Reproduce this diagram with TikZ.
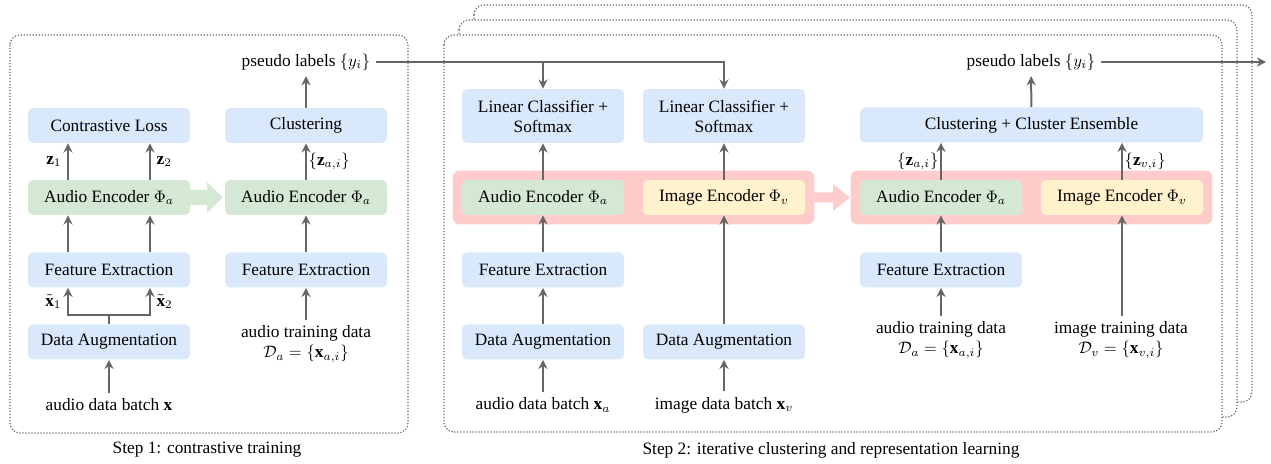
\documentclass[tikz,border=0pt]{standalone}
\usepackage{amsmath,amssymb}
\usepackage{fontspec}
\setmainfont{Liberation Serif}
\usepackage{tikz}
\usetikzlibrary{arrows.meta,fit,backgrounds,positioning}
\definecolor{boxblue}{HTML}{DAE8FC}
\definecolor{encgreen}{HTML}{D5E8D4}
\definecolor{encyellow}{HTML}{FFF2CC}
\definecolor{bandpink}{HTML}{FFCCCC}
\definecolor{arrgray}{HTML}{666666}
\definecolor{framegray}{HTML}{6A6A6A}

\begin{document}
\begin{tikzpicture}[x=0.6pt, y=-0.6pt, font=\fontsize{10.4}{12}\selectfont,
   box/.style={rectangle, rounded corners=3pt, fill=boxblue, minimum width=97.2pt, minimum height=21pt, inner sep=0pt, align=center},
   enc/.style={box, fill=encgreen},
   band/.style={rectangle, rounded corners=4pt, fill=bandpink, inner sep=5.4pt},
   frame/.style={draw=framegray, line width=0.75pt, dash pattern=on 0.75pt off 1.05pt, rounded corners=6pt},
   arr/.style={-{Stealth[length=5.5pt,width=5.5pt]}, draw=arrgray, line width=1.2pt}]
   \useasboundingbox (0,0) rectangle (1271,464);
   % frames
   \begin{scope}[on background layer]
    \draw[frame] (10,35) rectangle (408,433);
    \draw[frame, fill=white] (474,5) rectangle (1252,402);
    \draw[frame, fill=white] (459,20) rectangle (1237,417);
    \draw[frame, fill=white] (444,35) rectangle (1222,432);
   \end{scope}
   \node (cap1) at (207,450) {Step 1: contrastive training};
   \node (cap2) at (831,450) {Step 2: iterative clustering and representation learning};

   % step 1
   \node[box] (cl) at (109,125.5) {Contrastive Loss};
   \node[enc] (ae1) at (109,197.5) {Audio Encoder $\Phi_a$};
   \node[box] (fe1) at (109,270) {Feature Extraction};
   \node[box] (da1) at (109,342) {Data Augmentation};
   \node (adb1) at (109,405) {audio data batch $\mathbf{x}$};
   \node[box] (clu) at (306,125.5) {Clustering};
   \node[enc] (ae1b) at (306,197.5) {Audio Encoder $\Phi_a$};
   \node[box] (fe1b) at (306,270) {Feature Extraction};
   \node[align=center] (atd1) at (306,344) {audio training data\\$\mathcal{D}_a=\{\mathbf{x}_{a,i}\}$};
   \node (pl1) at (306,62) {pseudo labels $\{y_i\}$};
   \fill[encgreen] (190,190) -- (207,190) -- (207,182) -- (223,197.5) -- (207,213) -- (207,205) -- (190,205) -- cycle;

   \begin{scope}[arr]
    \draw (adb1) -- (da1);
    \draw (da1.north) -- ++(0,-9) -| node[pos=0.75,left]{$\tilde{\mathbf{x}}_1$} ([xshift=-24.6pt]fe1.south);
    \draw (da1.north) -- ++(0,-9) -| node[pos=0.75,right]{$\tilde{\mathbf{x}}_2$} ([xshift=24.6pt]fe1.south);
    \draw ([xshift=-24.6pt]fe1.north) -- ([xshift=-24.6pt]ae1.south);
    \draw ([xshift=24.6pt]fe1.north) -- ([xshift=24.6pt]ae1.south);
    \draw ([xshift=-24.6pt]ae1.north) -- node[left]{$\mathbf{z}_1$} ([xshift=-24.6pt]cl.south);
    \draw ([xshift=24.6pt]ae1.north) -- node[right]{$\mathbf{z}_2$} ([xshift=24.6pt]cl.south);
    \draw (atd1) -- (fe1b);
    \draw (fe1b) -- (ae1b);
    \draw (ae1b) -- node[right,inner sep=1pt]{$\{\mathbf{z}_{a,i}\}$} (clu);
    \draw (clu) -- (pl1);
   \end{scope}

   % step 2, training
   \node[box, minimum height=32.4pt] (lc1) at (543,116) {Linear Classifier +\\Softmax};
   \node[box, minimum height=32.4pt] (lc2) at (724,116) {Linear Classifier +\\Softmax};
   \node[enc] (ae2) at (543,197.5) {Audio Encoder $\Phi_a$};
   \node[enc, fill=encyellow] (ie2) at (724,197.5) {Image Encoder $\Phi_v$};
   \node[box] (fe2) at (543,270) {Feature Extraction};
   \node[box] (da2) at (543,342) {Data Augmentation};
   \node[box] (da2b) at (724,342) {Data Augmentation};
   \node (adb2) at (543,405) {audio data batch $\mathbf{x}_a$};
   \node (idb2) at (724,405) {image data batch $\mathbf{x}_v$};
   \begin{scope}[on background layer]
    \node[band, fit=(ae2)(ie2)] (b2) {};
   \end{scope}
   \fill[bandpink] (814,192.5) -- (833,192.5) -- (833,184) -- (850,197.5) -- (833,211) -- (833,202.5) -- (814,202.5) -- cycle;

   % step 2, clustering
   \node[enc] (ae3) at (941,197.5) {Audio Encoder $\Phi_a$};
   \node[enc, fill=encyellow] (ie3) at (1122,197.5) {Image Encoder $\Phi_v$};
   \begin{scope}[on background layer]
    \node[band, fit=(ae3)(ie3)] (b3) {};
   \end{scope}
   \node[box, minimum width=205.8pt] (cce) at (1031.5,125) {Clustering + Cluster Ensemble};
   \node (pl2) at (1031,62) {pseudo labels $\{y_i\}$};
   \node[box] (fe3) at (941,270) {Feature Extraction};
   \node[align=center] (atd3) at (941,340) {audio training data\\$\mathcal{D}_a=\{\mathbf{x}_{a,i}\}$};
   \node[align=center] (itd3) at (1121,340) {image training data\\$\mathcal{D}_v=\{\mathbf{x}_{v,i}\}$};
   \coordinate (out) at (1266,62);

   \begin{scope}[arr]
    \draw (pl1.east) -| (lc2.north);
    \draw (lc1.north |- pl1.east) -- (lc1.north);
    \draw (adb2) -- (da2);
    \draw (da2) -- (fe2);
    \draw (fe2) -- (ae2);
    \draw (idb2) -- (da2b);
    \draw (da2b) -- (ie2);
    \draw (ae2) -- (lc1);
    \draw (ie2) -- (lc2);
    \draw (atd3) -- (fe3);
    \draw (fe3) -- (ae3);
    \draw (ie3.south |- itd3.north) -- (ie3.south);
    \draw (ae3.north) -- node[left,inner sep=1pt]{$\{\mathbf{z}_{a,i}\}$} (ae3.north |- cce.south);
    \draw (ie3.north) -- node[right,inner sep=1pt]{$\{\mathbf{z}_{v,i}\}$} (ie3.north |- cce.south);
    \draw (cce) -- (pl2);
    \draw (pl2) -- (out);
   \end{scope}
\end{tikzpicture}
\end{document}
